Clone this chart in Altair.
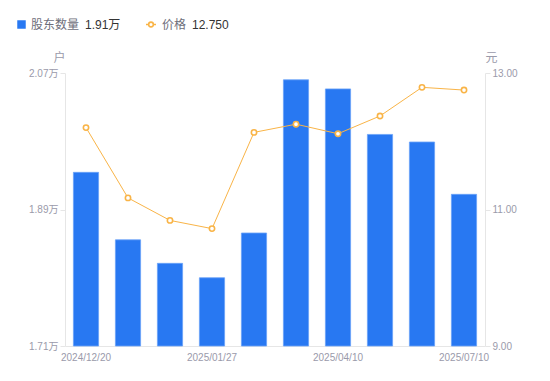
import altair as alt
import pandas as pd

dates = ["2024/12/20", "2024/12/31", "2025/01/10", "2025/01/27", "2025/02/28",
         "2025/03/20", "2025/04/10", "2025/04/30", "2025/06/10", "2025/07/10"]
holders = [19390, 18500, 18190, 18000, 18590, 20610, 20490, 19890, 19790, 19100]
prices = [12.20, 11.17, 10.84, 10.72, 12.13, 12.25, 12.11, 12.37, 12.79, 12.75]
shown_dates = [dates[0], dates[3], dates[6], dates[9]]

df = pd.DataFrame({"date": dates, "holders": holders, "price": prices})

FONT = "Liberation Sans, Noto Sans CJK SC, sans-serif"
BLUE = "#2878F2"
ORANGE = "#F9B447"
AXIS_GRAY = "#E6E6E6"
LABEL_GRAY = "#9A9AAA"

x = alt.X("date:N", sort=None, title=None,
          scale=alt.Scale(paddingInner=0.4, paddingOuter=0.2),
          axis=alt.Axis(values=shown_dates, labelAngle=0, ticks=False,
                        domainColor=AXIS_GRAY, labelColor=LABEL_GRAY,
                        labelFontSize=10, labelFont=FONT, labelPadding=6))

bars = alt.Chart(df).mark_bar(color=BLUE, stroke="#6AA2F7", strokeWidth=0.8).encode(
    x=x,
    y=alt.Y("holders:Q", title="户",
            scale=alt.Scale(domain=[17100, 20700], zero=False, nice=False),
            axis=alt.Axis(values=[17100, 18900, 20700], orient="left",
                          labelExpr="format(datum.value/10000, '.2f') + '万'",
                          grid=False, domainColor=AXIS_GRAY, tickColor=AXIS_GRAY,
                          tickSize=5, labelColor=LABEL_GRAY, labelFontSize=10,
                          labelFont=FONT, labelPadding=2,
                          titleAngle=0, titleX=-6, titleY=-16, titleAlign="center",
                          titleBaseline="middle", titleColor=LABEL_GRAY,
                          titleFontSize=12, titleFontWeight="normal", titleFont=FONT)),
    y2=alt.datum(17100),
)

price_y = alt.Y("price:Q", title="元",
                scale=alt.Scale(domain=[9, 13], zero=False, nice=False),
                axis=alt.Axis(values=[9, 11, 13], orient="right", format=".2f",
                              grid=False, domainColor=AXIS_GRAY, tickColor=AXIS_GRAY,
                              tickSize=5, labelColor=LABEL_GRAY, labelFontSize=10,
                              labelFont=FONT, labelPadding=2,
                              titleAngle=0, titleX=6, titleY=-16, titleAlign="center",
                              titleBaseline="middle", titleColor=LABEL_GRAY,
                              titleFontSize=12, titleFontWeight="normal", titleFont=FONT))

line = alt.Chart(df).mark_line(color=ORANGE, strokeWidth=1).encode(x=x, y=price_y)
points = alt.Chart(df).mark_point(shape="circle", filled=True, fill="white",
                                  stroke=ORANGE, strokeWidth=1.6, size=28, opacity=1).encode(
    x=x, y=price_y)

one = pd.DataFrame({"a": [0]})
leg_y = -48.5


def txt(s, xpos, color, size=12):
    return alt.Chart(one).mark_text(text=s, align="left", baseline="middle",
                                    font=FONT, fontSize=size, color=color).encode(
        x=alt.value(xpos), y=alt.value(leg_y))


legend = [
    alt.Chart(one).mark_square(color=BLUE, size=72, opacity=1).encode(
        x=alt.value(-43.5), y=alt.value(leg_y)),
    txt("股东数量", -34, "#6E6E7A"),
    txt(f"{holders[-1]/10000:.2f}万", 20, "#333333"),
    alt.Chart(one).mark_rule(color=ORANGE, strokeWidth=1.5).encode(
        x=alt.value(81), x2=alt.value(91), y=alt.value(leg_y)),
    alt.Chart(one).mark_point(shape="circle", filled=True, fill="white", stroke=ORANGE,
                              strokeWidth=1.6, size=22, opacity=1).encode(
        x=alt.value(86), y=alt.value(leg_y)),
    txt("价格", 97, "#6E6E7A"),
    txt(f"{prices[-1]:.3f}", 127, "#333333"),
]

chart = alt.layer(bars, alt.layer(line, points), *legend).resolve_scale(
    y="independent").properties(
    width=420, height=273,
    autosize=alt.AutoSizeParams(type="none"),
    padding={"left": 57, "top": 65, "right": 57, "bottom": 27},
).configure_view(stroke=None)

chart.save("out.html", embed_options={"renderer": "svg", "actions": False})
